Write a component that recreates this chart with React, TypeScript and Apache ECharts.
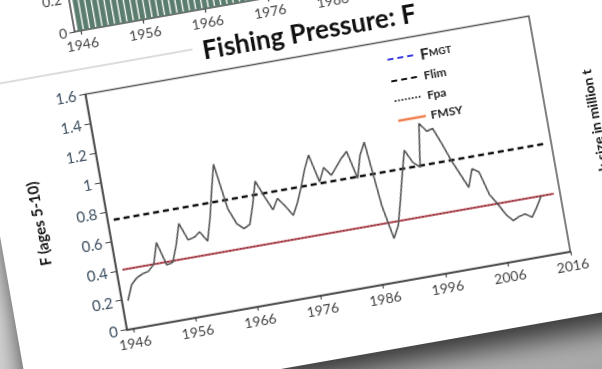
import React, { useEffect, useRef } from "react";
import * as echarts from "echarts";

const FONT = 'Lato, "Open Sans", "DejaVu Sans", sans-serif';

// Fishing pressure F (ages 5-10)
const years = [
  1946, 1947, 1948, 1949, 1950, 1951, 1952, 1953, 1954, 1955,
  1956, 1957, 1958, 1959, 1960, 1961, 1962, 1963, 1964, 1965,
  1966, 1967, 1968, 1969, 1970, 1971, 1972, 1973, 1974, 1975,
  1976, 1977, 1978, 1979, 1980, 1981, 1982, 1983, 1984, 1985,
  1986, 1987, 1988, 1989, 1990, 1991, 1992, 1993, 1994, 1995,
  1996, 1997, 1998, 1999, 2000, 2001, 2002, 2003, 2004, 2005,
  2006, 2007, 2008, 2009, 2010, 2011, 2012, 2013,
];
const fValues = [
  0.19, 0.29, 0.33, 0.35, 0.36, 0.4, 0.54, 0.38, 0.39, 0.5,
  0.64, 0.52, 0.53, 0.56, 0.49, 0.64, 0.82, 0.99, 0.68, 0.57,
  0.53, 0.55, 0.68, 0.83, 0.72, 0.62, 0.69, 0.63, 0.56, 0.64,
  0.74, 0.85, 0.94, 0.75, 0.84, 0.78, 0.83, 0.88, 0.92, 0.73,
  0.88, 0.96, 0.52, 0.29, 0.37, 0.53, 0.7, 0.86, 0.77, 0.73,
  1.02, 0.96, 0.97, 0.86, 0.74, 0.64, 0.54, 0.66, 0.63, 0.47,
  0.4, 0.32, 0.27, 0.29, 0.3, 0.27, 0.33, 0.4,
];

// Reference points
const refYears = [1946, 2015];
const flim = 0.74;
const fpa = 0.4;
const fmsy = 0.4;

const xTicks = [1946, 1956, 1966, 1976, 1986, 1996, 2006, 2016];

// Panel above (catch, million t), only its lowest part is visible
const catchYears = years.slice(0, 40);
const catchValues = [
  0.71, 0.88, 0.79, 0.8, 0.73, 0.83, 0.88, 0.7, 0.83, 1.15,
  1.34, 0.79, 0.77, 0.74, 0.62, 0.78, 0.91, 0.78, 0.44, 0.44,
  0.48, 0.57, 1.07, 1.2, 0.93, 0.69, 0.57, 0.79, 1.1, 0.83,
  0.87, 0.91, 0.7, 0.44, 0.4, 0.4, 0.36, 0.29, 0.28, 0.31,
];

export default function App() {
  const ref = useRef<HTMLDivElement>(null);

  useEffect(() => {
    if (!ref.current) return;
    const chart = echarts.init(ref.current, null, { renderer: "svg" });
    const axisLine = { show: true, onZero: false, lineStyle: { color: "#444", width: 1.5 } };
    const xAxisBase = {
      type: "value",
      min: 1945,
      max: 2016,
      axisLine,
      axisTick: { show: true, customValues: xTicks, length: 4, lineStyle: { color: "#444", width: 1.2 } },
      axisLabel: {
        customValues: xTicks,
        color: "#444",
        fontSize: 14,
        margin: 7,
        fontFamily: FONT,
        formatter: (v: number) => String(v),
      },
      splitLine: { show: false },
    };
    const refData = (v: number) => refYears.map((y) => [y, v]);
    const hidden = { color: "rgba(0,0,0,0)", borderColor: "rgba(0,0,0,0)", borderWidth: 0 };
    chart.setOption({
      animation: false,
      textStyle: { fontFamily: FONT },
      title: {
        text: "Fishing Pressure: F",
        left: "center",
        top: 99,
        textStyle: { fontSize: 26, fontWeight: "bold", color: "#111", fontFamily: FONT },
      },
      legend: {
        orient: "vertical",
        left: 406,
        top: 146,
        itemWidth: 28,
        itemHeight: 14,
        itemGap: 8,
        itemStyle: hidden,
        textStyle: {
          fontSize: 12,
          fontWeight: "bold",
          color: "#222",
          fontFamily: FONT,
          rich: {
            big: { fontSize: 16, fontWeight: "bold", color: "#222", fontFamily: FONT },
            small: { fontSize: 10, fontWeight: "bold", color: "#222", fontFamily: FONT },
          },
        },
        formatter: (name: string) => (name === "FMGT" ? "{big|F}{small|MGT}" : name),
        data: [
          { name: "FMGT", itemStyle: hidden },
          { name: "Flim", itemStyle: hidden },
          { name: "Fpa", itemStyle: hidden, lineStyle: { color: "#222" } },
          { name: "FMSY", itemStyle: hidden, lineStyle: { color: "#f08050", width: 2.5 } },
        ],
      },
      grid: [
        { left: 108.5, top: 140.5, width: 450.5, height: 239, show: true, borderColor: "#555", borderWidth: 1.5 },
        { left: 108.5, top: 8, width: 450.5, height: 69, show: false },
      ],
      xAxis: [
        { ...xAxisBase, gridIndex: 0 },
        { ...xAxisBase, gridIndex: 1 },
      ],
      yAxis: [
        {
          gridIndex: 0,
          type: "value",
          min: 0,
          max: 1.6,
          interval: 0.2,
          name: "F (ages 5-10)",
          nameLocation: "middle",
          nameGap: 61,
          nameTextStyle: { fontWeight: "bold", fontSize: 15, color: "#111", fontFamily: FONT },
          axisLine,
          axisTick: { show: true, length: 6, lineStyle: { color: "#444", width: 1.2 } },
          axisLabel: { color: "#3b4d5f", fontSize: 15, margin: 9, fontFamily: FONT },
          splitLine: { show: false },
        },
        {
          gridIndex: 1,
          type: "value",
          min: 0,
          max: 0.4,
          interval: 0.2,
          axisLine,
          axisTick: { show: true, length: 5, lineStyle: { color: "#444", width: 1.2 } },
          axisLabel: { color: "#444", fontSize: 14, margin: 7, fontFamily: FONT },
          splitLine: { show: false },
        },
      ],
      graphic: [
        { type: "line", shape: { x1: 0, y1: 115, x2: 222, y2: 115 }, style: { stroke: "#bbb", lineWidth: 1 } },
        {
          type: "text",
          x: 606,
          y: 203,
          rotation: Math.PI / 2,
          style: {
            text: "Stock size in million t",
            fontSize: 14,
            fontWeight: "bold",
            fill: "#111",
            align: "right",
            verticalAlign: "middle",
            fontFamily: FONT,
          },
        },
      ],
      series: [
        {
          name: "Catch",
          type: "bar",
          xAxisIndex: 1,
          yAxisIndex: 1,
          barWidth: 5,
          itemStyle: { color: "#5b7d6e" },
          data: catchYears.map((y, i) => [y, catchValues[i]]),
          clip: true,
        },
        {
          name: "FMGT",
          type: "line",
          data: [],
          symbol: "none",
          lineStyle: { color: "#3a3ae0", width: 2.5, type: [6, 4] },
          itemStyle: { color: "#3a3ae0" },
        },
        {
          name: "FMSY",
          type: "line",
          data: refData(fmsy),
          symbol: "none",
          lineStyle: { color: "#c0505a", width: 2 },
          itemStyle: { color: "#c0505a" },
        },
        {
          name: "Fpa",
          type: "line",
          data: refData(fpa),
          symbol: "none",
          lineStyle: { color: "#5a1822", width: 1.2, type: [1.5, 2] },
          itemStyle: { color: "#222" },
        },
        {
          name: "Flim",
          type: "line",
          data: refData(flim),
          symbol: "none",
          lineStyle: { color: "#111", width: 2.5, type: [6, 4] },
          itemStyle: { color: "#111" },
        },
        {
          name: "F",
          type: "line",
          data: years.map((y, i) => [y, fValues[i]]),
          symbol: "none",
          lineStyle: { color: "#555", width: 1.6 },
          itemStyle: { color: "#555" },
        },
      ],
    });
    return () => chart.dispose();
  }, []);

  return (
    <div
      style={{
        position: "fixed",
        left: 0,
        top: 0,
        width: 602,
        height: 369,
        overflow: "hidden",
        background: "linear-gradient(160deg, #f4f4f4 0%, #dadada 55%, #a8a8a8 100%)",
      }}
    >
      <div
        style={{
          position: "absolute",
          left: -6,
          top: -87,
          width: 680,
          height: 445,
          background: "#fff",
          transformOrigin: "333px 260px",
          transform: "rotate(-10deg)",
          boxShadow: "0 16px 26px rgba(0,0,0,0.7)",
          filter: "blur(0.45px)",
        }}
      >
        <div ref={ref} style={{ width: 680, height: 445 }} />
      </div>
    </div>
  );
}
